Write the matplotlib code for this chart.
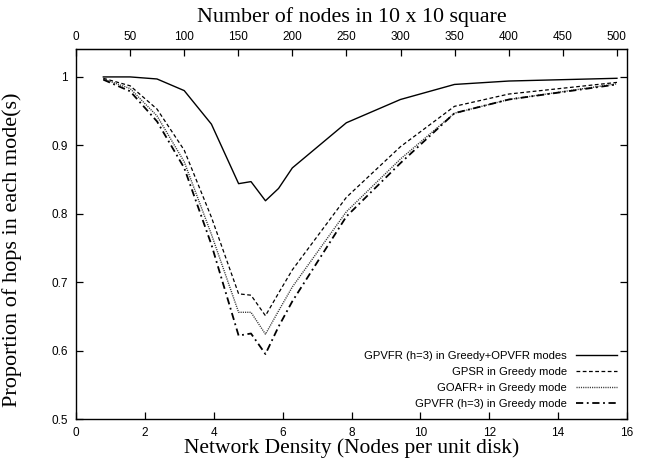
"""Proportion of greedy hops vs network density (gnuplot-style line chart)."""

import numpy as np
import matplotlib
matplotlib.use("Agg")
import matplotlib.pyplot as plt

# Network density (nodes per unit disk) at each simulated node count
density = [0.79, 1.57, 2.35, 3.14, 3.93, 4.72, 5.08, 5.50, 5.88, 6.28,
           7.85, 9.42, 10.99, 12.57, 15.71]

gpvfr_opvfr = [1.000, 1.000, 0.997, 0.980, 0.931, 0.844, 0.847, 0.819, 0.837, 0.867,
               0.933, 0.967, 0.989, 0.994, 0.998]
gpsr = [0.998, 0.987, 0.953, 0.893, 0.795, 0.683, 0.681, 0.651, 0.684, 0.718,
        0.824, 0.898, 0.957, 0.975, 0.992]
goafr = [0.997, 0.983, 0.943, 0.876, 0.770, 0.656, 0.656, 0.624, 0.658, 0.693,
         0.803, 0.880, 0.947, 0.967, 0.990]
gpvfr_greedy = [0.996, 0.979, 0.935, 0.867, 0.755, 0.622, 0.625, 0.595, 0.635, 0.672,
                0.796, 0.874, 0.947, 0.967, 0.989]

labels = ["GPVFR (h=3) in Greedy+OPVFR modes", "GPSR in Greedy mode",
          "GOAFR+ in Greedy mode", "GPVFR (h=3) in Greedy mode"]

serif = ["Liberation Serif", "DejaVu Serif"]
plt.rcParams["font.family"] = ["Liberation Sans", "DejaVu Sans"]

fig = plt.figure(figsize=(6.45, 4.61), dpi=100)
ax = fig.add_axes([0.118, 0.091, 0.854, 0.803])

ax.plot(density, gpvfr_opvfr, color="black", lw=1.0, ls="-", label=labels[0])
ax.plot(density, gpsr, color="black", lw=0.9, ls=(0, (3, 2)), label=labels[1])
ax.plot(density, goafr, color="#333333", lw=1.0, ls=(0, (0.8, 0.8)), label=labels[2])
ax.plot(density, gpvfr_greedy, color="black", lw=1.3, ls=(0, (4, 2, 1, 2)), label=labels[3])

ax.set_xlim(0, 16)
ax.set_ylim(0.5, 1.041)
ax.set_xticks(np.arange(0, 17, 2))
ax.set_yticks([0.5, 0.6, 0.7, 0.8, 0.9, 1.0])
ax.set_yticklabels(["0.5", "0.6", "0.7", "0.8", "0.9", "1"])
ax.tick_params(axis="both", direction="in", length=5, width=0.9, labelsize=8.5, pad=6)
ax.tick_params(axis="y", right=True)
for s in ax.spines.values():
    s.set_linewidth(1.0)

ax.set_xlabel("Network Density (Nodes per unit disk)", family=serif, fontsize=15.5, labelpad=-1)
ax.set_ylabel("Proportion of hops in each mode(s)", family=serif, fontsize=16)
ax.yaxis.set_label_coords(-0.098, 0.457)

top = ax.secondary_xaxis("top", functions=(lambda d: d * 100 / np.pi, lambda n: n * np.pi / 100))
top.set_xticks(np.arange(0, 501, 50))
top.tick_params(direction="in", length=5, width=0.9, labelsize=8.5, pad=4)
top.set_xlabel("Number of nodes in 10 x 10 square", family=serif, fontsize=15.8, labelpad=7)

ax.legend(loc="lower right", frameon=False, markerfirst=False, fontsize=8.1,
          handlelength=3.7, handletextpad=0.8, labelspacing=0.55,
          borderaxespad=0.3, bbox_to_anchor=(0.997, 0.005))

fig.savefig("out.png", dpi=100)
